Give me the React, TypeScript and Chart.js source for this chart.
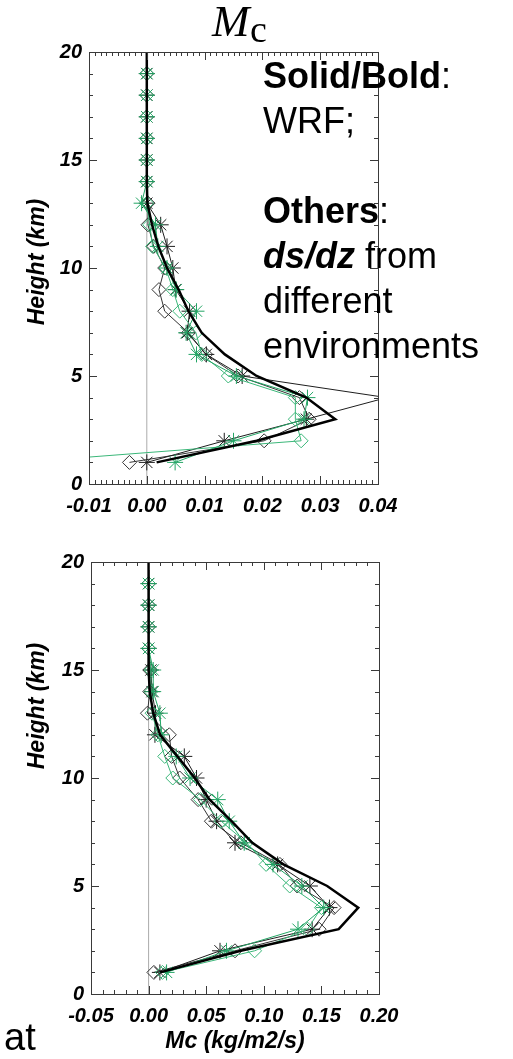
import React, { useEffect, useRef } from 'react';
import { Chart, registerables } from 'chart.js';

Chart.register(...registerables);

// Model levels (km) for the ds/dz profiles and the WRF profile
const heights = [1, 2, 3, 4, 5, 6, 7, 8, 9, 10, 11, 12, 13, 14, 15, 16, 17, 18, 19];
const wrfHeights = [1, 2, 3, 4, 5, 6, 7, 8, 9, 10, 11, 12, 13, 14, 15, 16, 17, 18, 19, 20];

// Upper panel, Mc
const wrfTop = [0.0017, 0.019, 0.0326, 0.0276, 0.019, 0.0135, 0.0095, 0.0072, 0.0055, 0.0035, 0.002, 0.0009, 0.0001, 0, 0, 0, 0, 0, 0, 0];
const blackStarTop = [0.0, 0.0134, 0.0276, 0.0415, 0.0165, 0.0103, 0.007, 0.0074, 0.005, 0.0045, 0.0035, 0.0024, 0.0, 0, 0, 0, 0, 0, 0];
const blackDiamondTop = [-0.003, 0.0203, 0.0281, 0.0264, 0.0158, 0.0102, 0.0072, 0.0031, 0.0021, 0.0031, 0.0012, 0.0002, 0.0002, 0, 0, 0, 0, 0, 0];
const greenStarTop = [0.0049, 0.015, 0.0272, 0.0278, 0.0155, 0.0086, 0.0068, 0.0086, 0.0051, 0.0035, 0.0019, 0.0015, -0.0009, 0, 0, 0, 0, 0, 0];
const greenDiamondTop = [-0.022, 0.0267, 0.0257, 0.0257, 0.0141, 0.0095, 0.0085, 0.0057, 0.0045, 0.0033, 0.001, 0.0005, 0.0, 0, 0, 0, 0, 0, 0];

// Lower panel, Mc (kg/m2/s)
const wrfBot = [0.01, 0.08, 0.165, 0.182, 0.155, 0.117, 0.09, 0.072, 0.053, 0.04, 0.025, 0.01, 0.004, 0.001, 0, 0, 0, 0, 0, 0];
const blackStarBot = [0.0098, 0.062, 0.142, 0.157, 0.14, 0.112, 0.075, 0.059, 0.05, 0.0416, 0.031, 0.0055, 0.006, 0.003, 0.002, 0, 0, 0, 0];
const blackDiamondBot = [0.0046, 0.075, 0.148, 0.161, 0.129, 0.114, 0.08, 0.0545, 0.043, 0.027, 0.02, 0.018, -0.001, 0.001, 0.001, 0, 0, 0, 0];
const greenStarBot = [0.0156, 0.0676, 0.1297, 0.152, 0.133, 0.108, 0.083, 0.07, 0.06, 0.036, 0.024, 0.011, 0.0098, 0.004, 0.004, 0, 0, 0, 0];
const greenDiamondBot = [0.012, 0.092, 0.138, 0.15, 0.1225, 0.102, 0.085, 0.063, 0.045, 0.021, 0.014, 0.008, 0.003, 0.002, 0.002, 0, 0, 0, 0];

const BLACK = '#1e1e1e';
const GREEN = '#23a565';
const GREEN_LIGHT = '#3bb779';
const AXIS = '#3a3a3a';
const NARROW = "'Liberation Sans Narrow', 'Liberation Sans', Arial, sans-serif";
const SANS = "'Liberation Sans', Arial, sans-serif";
const SERIF = "'Liberation Serif', 'Times New Roman', serif";

const pts = (xs: number[], ys: number[]) => xs.map((x, i) => ({ x, y: ys[i] }));

type PanelCfg = {
  top: number;
  height: number;
  padTop: number;
  padRight: number;
  yAxisWidth: number;
  xAxisHeight: number;
  xMin: number;
  xMax: number;
  xStep: number;
  xMinor: number;
  wrf: number[];
  blackStar: number[];
  blackDiamond: number[];
  greenStar: number[];
  greenDiamond: number[];
};

// Frame with inward-pointing ticks on all four sides
const frameTicks = {
  id: 'frameTicks',
  afterDatasetsDraw(chart: any, _args: any, opts: any) {
    const { ctx, chartArea: a, scales } = chart;
    const xs = scales.x;
    const ys = scales.y;
    ctx.save();
    ctx.strokeStyle = AXIS;
    ctx.lineWidth = 1;
    ctx.strokeRect(Math.round(a.left) + 0.5, Math.round(a.top) + 0.5, Math.round(a.right - a.left), Math.round(a.bottom - a.top));
    ctx.beginPath();
    const nx = Math.round((opts.xMax - opts.xMin) / opts.xMinor);
    for (let i = 1; i < nx; i++) {
      const v = opts.xMin + i * opts.xMinor;
      const r = v / opts.xStep;
      const major = Math.abs(r - Math.round(r)) < 1e-6;
      const len = major ? 8 : 4;
      const px = Math.round(xs.getPixelForValue(v)) + 0.5;
      ctx.moveTo(px, a.bottom);
      ctx.lineTo(px, a.bottom - len);
      ctx.moveTo(px, a.top);
      ctx.lineTo(px, a.top + len);
    }
    for (let k = 1; k < 20; k++) {
      const len = k % 5 === 0 ? 8 : 4;
      const py = Math.round(ys.getPixelForValue(k)) + 0.5;
      ctx.moveTo(a.left, py);
      ctx.lineTo(a.left + len, py);
      ctx.moveTo(a.right, py);
      ctx.lineTo(a.right - len, py);
    }
    ctx.stroke();
    ctx.restore();
  },
};

function Panel({ cfg }: { cfg: PanelCfg }) {
  const ref = useRef<HTMLCanvasElement | null>(null);

  useEffect(() => {
    if (!ref.current) return;
    const tickFont = { family: NARROW, size: 20, weight: 'bold' as const, style: 'italic' as const };
    const thin = (data: number[], color: string, style: string, radius: number) => ({
      data: pts(data, heights),
      showLine: true,
      borderColor: color,
      borderWidth: 1,
      pointStyle: style,
      pointRadius: radius,
      pointBorderColor: color,
      pointBackgroundColor: 'rgba(0,0,0,0)',
      pointBorderWidth: 1,
      clip: 0,
    });
    const chart = new Chart(ref.current, {
      type: 'scatter',
      data: {
        datasets: [
          {
            data: pts(cfg.wrf, wrfHeights),
            showLine: true,
            borderColor: '#000',
            borderWidth: 2.5,
            pointRadius: 0,
            clip: 0,
          } as any,
          thin(cfg.greenStar, GREEN, 'star', 8),
          thin(cfg.greenDiamond, GREEN_LIGHT, 'rectRot', 7),
          thin(cfg.blackStar, BLACK, 'star', 8),
          thin(cfg.blackDiamond, '#333333', 'rectRot', 7),
          {
            data: [{ x: 0, y: 0 }, { x: 0, y: 20 }],
            showLine: true,
            borderColor: '#ababab',
            borderWidth: 1,
            pointRadius: 0,
            clip: 0,
          } as any,
        ],
      },
      options: {
        animation: false,
        responsive: false,
        maintainAspectRatio: false,
        events: [],
        layout: { padding: { top: cfg.padTop, right: cfg.padRight, left: 0, bottom: 0 } },
        plugins: {
          legend: { display: false },
          tooltip: { enabled: false },
          frameTicks: { xMin: cfg.xMin, xMax: cfg.xMax, xStep: cfg.xStep, xMinor: cfg.xMinor },
        } as any,
        scales: {
          x: {
            type: 'linear',
            position: 'bottom',
            min: cfg.xMin,
            max: cfg.xMax,
            afterFit: (s: any) => {
              s.height = cfg.xAxisHeight;
            },
            grid: { display: false, drawTicks: false },
            border: { display: false },
            ticks: {
              stepSize: cfg.xStep,
              autoSkip: false,
              maxRotation: 0,
              padding: 10,
              color: '#000',
              font: tickFont,
              callback: (v: any) => Number(v).toFixed(2),
            },
          },
          y: {
            type: 'linear',
            min: 0,
            max: 20,
            afterFit: (s: any) => {
              s.width = cfg.yAxisWidth;
            },
            grid: { display: false, drawTicks: false },
            border: { display: false },
            ticks: {
              stepSize: 5,
              padding: 7,
              color: '#000',
              font: tickFont,
              callback: (v: any) => String(v),
            },
          },
        },
      } as any,
      plugins: [frameTicks],
    });
    return () => chart.destroy();
  }, [cfg]);

  return (
    <canvas
      ref={ref}
      width={513}
      height={cfg.height}
      style={{ position: 'absolute', left: 0, top: cfg.top, width: 513, height: cfg.height }}
    />
  );
}

const topCfg: PanelCfg = {
  top: 0,
  height: 530,
  padTop: 52,
  padRight: 135,
  yAxisWidth: 89,
  xAxisHeight: 46,
  xMin: -0.01,
  xMax: 0.04,
  xStep: 0.01,
  xMinor: 0.001,
  wrf: wrfTop,
  blackStar: blackStarTop,
  blackDiamond: blackDiamondTop,
  greenStar: greenStarTop,
  greenDiamond: greenDiamondTop,
};

const botCfg: PanelCfg = {
  top: 530,
  height: 529,
  padTop: 32,
  padRight: 134,
  yAxisWidth: 91,
  xAxisHeight: 65,
  xMin: -0.05,
  xMax: 0.2,
  xStep: 0.05,
  xMinor: 0.01,
  wrf: wrfBot,
  blackStar: blackStarBot,
  blackDiamond: blackDiamondBot,
  greenStar: greenStarBot,
  greenDiamond: greenDiamondBot,
};

const yTitleStyle = (cx: number, cy: number): React.CSSProperties => ({
  position: 'absolute',
  left: cx,
  top: cy,
  transform: 'translate(-50%, -50%) rotate(-90deg)',
  whiteSpace: 'nowrap',
  fontFamily: NARROW,
  fontWeight: 'bold',
  fontStyle: 'italic',
  fontSize: 23,
  lineHeight: '23px',
  color: '#000',
});

export default function App() {
  return (
    <div style={{ position: 'absolute', left: 0, top: 0, width: 513, height: 1059, overflow: 'hidden', background: '#fff' }}>
      <Panel cfg={topCfg} />
      <Panel cfg={botCfg} />

      <div style={{ position: 'absolute', left: 212, top: -1, fontFamily: SERIF, fontStyle: 'italic', fontSize: 45, lineHeight: '45px', color: '#000' }}>M</div>
      <div style={{ position: 'absolute', left: 250, top: 10, fontFamily: SERIF, fontSize: 38, lineHeight: '38px', color: '#000' }}>c</div>

      <div style={yTitleStyle(36, 262)}>Height (km)</div>
      <div style={yTitleStyle(36, 706)}>Height (km)</div>

      <div style={{ position: 'absolute', left: 135, width: 200, top: 1029, textAlign: 'center', fontFamily: NARROW, fontWeight: 'bold', fontStyle: 'italic', fontSize: 23, lineHeight: '23px', color: '#000', whiteSpace: 'nowrap' }}>
        Mc (kg/m2/s)
      </div>

      <div style={{ position: 'absolute', left: 263, top: 53, fontFamily: SANS, fontSize: 36, lineHeight: '45px', color: '#000', whiteSpace: 'nowrap' }}>
        <div><b>Solid/Bold</b>:</div>
        <div>WRF;</div>
        <div>&nbsp;</div>
        <div><b>Others</b>:</div>
        <div><b><i>ds/dz</i></b> from</div>
        <div>different</div>
        <div>environments</div>
      </div>

      <div style={{ position: 'absolute', left: 4, top: 1018, fontFamily: SANS, fontSize: 38, lineHeight: '38px', color: '#000' }}>at</div>
    </div>
  );
}
